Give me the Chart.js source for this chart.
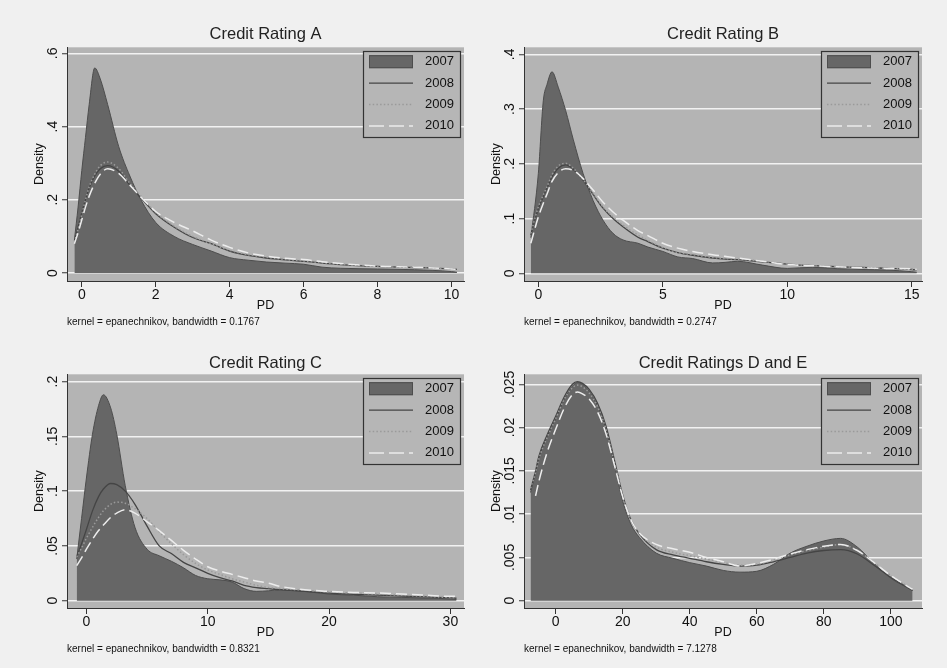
<!DOCTYPE html>
<html>
<head>
<meta charset="utf-8">
<script src="https://cdn.jsdelivr.net/npm/chart.js@4.4.1/dist/chart.umd.min.js"></script>
<style>
  body { margin: 0; background: #f0f0f0; }
  #wrap { position: relative; width: 947px; height: 668px; }
  canvas { position: absolute; }
</style>
</head>
<body>
<div id="wrap">
  <canvas id="panelA" width="470" height="334" style="left:0;top:0"></canvas>
  <canvas id="panelB" width="477" height="334" style="left:470px;top:0"></canvas>
  <canvas id="panelC" width="470" height="334" style="left:0;top:334px"></canvas>
  <canvas id="panelD" width="477" height="334" style="left:470px;top:334px"></canvas>
</div>
<script>
const years = ['2007', '2008', '2009', '2010'];

// Credit Rating A
const pdA = [-0.2, -0.1, 0, 0.1, 0.2, 0.35, 0.5, 0.7, 1.0, 1.3, 1.6, 2.0, 2.5, 3.0, 3.5, 4.0, 4.5, 5.0, 5.5, 6.0, 6.5, 7.0, 8.0, 9.0, 10.0, 10.15];
const a2007 = [0.09, 0.18, 0.28, 0.37, 0.46, 0.56, 0.53, 0.46, 0.345, 0.265, 0.2, 0.138, 0.1, 0.078, 0.06, 0.042, 0.035, 0.03, 0.027, 0.024, 0.016, 0.013, 0.011, 0.009, 0.004, 0.002];
const a2008 = [0.088, 0.125, 0.165, 0.2, 0.232, 0.265, 0.285, 0.293, 0.278, 0.24, 0.205, 0.162, 0.125, 0.097, 0.08, 0.06, 0.048, 0.041, 0.036, 0.032, 0.027, 0.023, 0.018, 0.015, 0.011, 0.01];
const a2009 = [0.085, 0.12, 0.16, 0.2, 0.235, 0.27, 0.293, 0.303, 0.285, 0.245, 0.21, 0.165, 0.128, 0.1, 0.08, 0.062, 0.05, 0.043, 0.037, 0.033, 0.028, 0.024, 0.018, 0.015, 0.011, 0.01];
const a2010 = [0.08, 0.11, 0.145, 0.18, 0.21, 0.245, 0.27, 0.285, 0.272, 0.24, 0.207, 0.168, 0.138, 0.115, 0.09, 0.07, 0.055, 0.046, 0.04, 0.037, 0.031, 0.026, 0.019, 0.016, 0.011, 0.01];
const xTicksA = [0, 2, 4, 6, 8, 10];
const yTicksA = [0, 0.2, 0.4, 0.6];
const yLabelsA = ['0', '.2', '.4', '.6'];

// Credit Rating B
const pdB = [-0.3, 0, 0.2, 0.35, 0.55, 0.8, 1.1, 1.4, 1.8, 2.2, 2.6, 3.0, 3.4, 4.0, 4.4, 5.0, 5.6, 6.2, 7.0, 7.5, 8.0, 9.0, 10.0, 11.0, 12.0, 13.0, 14.0, 15.0, 15.2];
const b2007 = [0.065, 0.182, 0.315, 0.345, 0.368, 0.34, 0.297, 0.245, 0.182, 0.133, 0.097, 0.073, 0.061, 0.055, 0.048, 0.04, 0.03, 0.027, 0.019, 0.02, 0.022, 0.015, 0.009, 0.011, 0.0085, 0.007, 0.006, 0.003, 0.002];
const b2008 = [0.07, 0.118, 0.14, 0.156, 0.176, 0.192, 0.198, 0.19, 0.17, 0.144, 0.119, 0.1, 0.085, 0.066, 0.058, 0.046, 0.038, 0.033, 0.028, 0.026, 0.025, 0.021, 0.017, 0.014, 0.012, 0.011, 0.009, 0.007, 0.006];
const b2009 = [0.073, 0.121, 0.143, 0.158, 0.18, 0.196, 0.201, 0.192, 0.171, 0.146, 0.121, 0.103, 0.088, 0.07, 0.06, 0.047, 0.038, 0.034, 0.029, 0.027, 0.026, 0.022, 0.017, 0.014, 0.012, 0.011, 0.009, 0.007, 0.006];
const b2010 = [0.055, 0.103, 0.128, 0.145, 0.168, 0.184, 0.191, 0.188, 0.173, 0.152, 0.13, 0.112, 0.097, 0.078, 0.069, 0.055, 0.046, 0.04, 0.034, 0.031, 0.028, 0.022, 0.016, 0.014, 0.012, 0.01, 0.009, 0.008, 0.007];
const xTicksB = [0, 5, 10, 15];
const yTicksB = [0, 0.1, 0.2, 0.3, 0.4];
const yLabelsB = ['0', '.1', '.2', '.3', '.4'];

// Credit Rating C
const pdC = [-0.8, -0.4, 0, 0.5, 1.0, 1.4, 2.0, 2.5, 3.2, 4.0, 5.0, 6.0, 7.0, 8.0, 9.0, 10.0, 11.0, 12.0, 13.0, 14.0, 15.0, 16.0, 18.0, 20.0, 22.0, 24.0, 26.0, 28.0, 30.0, 30.5];
const c2007 = [0.038, 0.075, 0.112, 0.152, 0.178, 0.188, 0.176, 0.152, 0.105, 0.067, 0.047, 0.041, 0.036, 0.03, 0.023, 0.02, 0.019, 0.017, 0.011, 0.0085, 0.009, 0.01, 0.0085, 0.006, 0.005, 0.0036, 0.003, 0.0024, 0.0015, 0.001];
const c2008 = [0.04, 0.052, 0.065, 0.082, 0.095, 0.102, 0.107, 0.106, 0.1, 0.088, 0.068, 0.05, 0.043, 0.035, 0.03, 0.025, 0.021, 0.018, 0.014, 0.012, 0.011, 0.01, 0.0085, 0.0068, 0.0058, 0.005, 0.0042, 0.0034, 0.0025, 0.0022];
const c2009 = [0.04, 0.048, 0.057, 0.067, 0.076, 0.082, 0.088, 0.09, 0.089, 0.084, 0.075, 0.063, 0.052, 0.042, 0.034, 0.028, 0.024, 0.02, 0.017, 0.014, 0.012, 0.011, 0.0095, 0.008, 0.007, 0.006, 0.005, 0.004, 0.003, 0.003];
const c2010 = [0.032, 0.039, 0.047, 0.056, 0.064, 0.069, 0.076, 0.08, 0.083, 0.08, 0.072, 0.064, 0.055, 0.046, 0.038, 0.031, 0.027, 0.024, 0.021, 0.018, 0.016, 0.013, 0.01, 0.0085, 0.0075, 0.007, 0.006, 0.005, 0.004, 0.004];
const xTicksC = [0, 10, 20, 30];
const yTicksC = [0, 0.05, 0.1, 0.15, 0.2];
const yLabelsC = ['0', '.05', '.1', '.15', '.2'];

// Credit Ratings D and E
const pdD = [-7.5, -6, -5, -2.5, 0, 2.5, 5, 6.5, 8, 10, 12.5, 15, 17.5, 20, 22.5, 25, 30, 35, 40, 45, 50, 55, 60, 65, 70, 75, 80, 85, 90, 95, 100, 106.5];
const d2007 = [0.0125, 0.0148, 0.0165, 0.019, 0.021, 0.0232, 0.0248, 0.0252, 0.025, 0.0242, 0.0225, 0.0198, 0.0158, 0.0115, 0.0088, 0.0073, 0.0055, 0.0049, 0.0044, 0.004, 0.0035, 0.0033, 0.0034, 0.0042, 0.0055, 0.0063, 0.0069, 0.0072, 0.0062, 0.0043, 0.0026, 0.0012];
const d2008 = [0.0128, 0.015, 0.0167, 0.0192, 0.0213, 0.0235, 0.025, 0.0253, 0.0251, 0.0244, 0.0228, 0.0202, 0.0163, 0.0122, 0.0093, 0.0077, 0.0059, 0.0053, 0.0049, 0.0045, 0.0042, 0.004, 0.0041, 0.0045, 0.005, 0.0055, 0.0058, 0.0059, 0.0054, 0.0041, 0.0027, 0.0012];
const d2009 = [0.013, 0.0148, 0.0164, 0.0189, 0.021, 0.0232, 0.0246, 0.0249, 0.0247, 0.024, 0.0224, 0.0198, 0.016, 0.0122, 0.0094, 0.0078, 0.0062, 0.0056, 0.0052, 0.0048, 0.0044, 0.0041, 0.0042, 0.0047, 0.0053, 0.0058, 0.0062, 0.0065, 0.0058, 0.0044, 0.0029, 0.0013];
const d2010 = [null, 0.0121, 0.0138, 0.0172, 0.0198, 0.0222, 0.0238, 0.0241, 0.0239, 0.0233, 0.0218, 0.0193, 0.0157, 0.012, 0.0093, 0.0078, 0.0065, 0.006, 0.0056, 0.005, 0.0045, 0.004, 0.0043, 0.0048, 0.0054, 0.0059, 0.0063, 0.0065, 0.0058, 0.0044, 0.0029, 0.0013];
const xTicksD = [0, 20, 40, 60, 80, 100];
const yTicksD = [0, 0.005, 0.01, 0.015, 0.02, 0.025];
const yLabelsD = ['0', '.005', '.01', '.015', '.02', '.025'];

Chart.defaults.font.family = '"Liberation Sans", Arial, sans-serif';
Chart.defaults.color = '#111';

const seriesStyle = [
  { borderColor: '#4d4d4d', backgroundColor: '#666666', fill: 'origin', borderWidth: 1, borderDash: [], order: 4 },
  { borderColor: '#454545', backgroundColor: 'transparent', fill: false, borderWidth: 1.3, borderDash: [], order: 3 },
  { borderColor: '#9a9a9a', backgroundColor: 'transparent', fill: false, borderWidth: 1.5, borderDash: [1.5, 2.2], order: 2 },
  { borderColor: '#ececec', backgroundColor: 'transparent', fill: false, borderWidth: 1.5, borderDash: [11, 5], order: 1 }
];

const plotBg = {
  id: 'plotBg',
  beforeDraw(chart) {
    const { ctx, chartArea: a } = chart;
    ctx.save();
    ctx.fillStyle = '#b4b4b4';
    ctx.fillRect(a.left, a.top, a.right - a.left, a.bottom - a.top);
    ctx.restore();
  }
};

// stata-like legend box in the top right corner of the plot
const legendBox = {
  id: 'legendBox',
  afterDraw(chart) {
    const { ctx, chartArea: a } = chart;
    const w = 97, h = 86;
    const x0 = Math.round(a.right - 4 - w), y0 = Math.round(a.top + 4);
    ctx.save();
    ctx.fillStyle = '#b6b6b6';
    ctx.fillRect(x0, y0, w, h);
    ctx.strokeStyle = '#333';
    ctx.lineWidth = 1.2;
    ctx.strokeRect(x0 + 0.5, y0 + 0.5, w, h);
    chart.data.datasets.forEach((ds, i) => {
      const cy = y0 + 10.7 + i * 21.4;
      if (ds.fill) {
        ctx.fillStyle = ds.backgroundColor;
        ctx.fillRect(x0 + 6, cy - 6.5, 44, 13);
        ctx.strokeStyle = ds.borderColor;
        ctx.lineWidth = 1;
        ctx.setLineDash([]);
        ctx.strokeRect(x0 + 6.5, cy - 6, 43, 12);
      } else {
        ctx.strokeStyle = ds.borderColor;
        ctx.lineWidth = ds.borderWidth;
        ctx.setLineDash(ds.legendDash || ds.borderDash);
        ctx.beginPath();
        ctx.moveTo(x0 + 6, cy);
        ctx.lineTo(x0 + 50, cy);
        ctx.stroke();
      }
      ctx.setLineDash([]);
      ctx.fillStyle = '#111';
      ctx.font = '13px "Liberation Sans", Arial, sans-serif';
      ctx.textAlign = 'right';
      ctx.textBaseline = 'middle';
      ctx.fillText(ds.label, x0 + 91, cy);
    });
    ctx.restore();
  }
};

function makePanel(id, p) {
  const datasets = p.series.map((ys, k) => Object.assign({
    label: years[k],
    data: p.pd.map((x, i) => ({ x: x, y: ys[i] })),
    pointRadius: 0,
    cubicInterpolationMode: 'monotone',
    legendDash: k === 3 ? [15, 5] : null
  }, seriesStyle[k]));

  new Chart(document.getElementById(id), {
    type: 'line',
    data: { datasets: datasets },
    options: {
      responsive: false,
      animation: false,
      devicePixelRatio: 1,
      layout: { padding: { left: p.padLeft, right: p.padRight, top: 0, bottom: p.padBottom } },
      plugins: {
        legend: { display: false },
        tooltip: { enabled: false },
        title: {
          display: true, text: p.title, fullSize: false, color: '#222',
          font: { size: 16.5, weight: 'normal' },
          padding: { top: p.titleTop, bottom: p.titleBottom }
        },
        subtitle: {
          display: true, text: p.note, position: 'bottom', align: 'start', fullSize: false,
          color: '#111', font: { size: 10 }, padding: { top: 1, bottom: 6 }
        }
      },
      scales: {
        x: {
          type: 'linear', min: p.xMin, max: p.xMax,
          afterBuildTicks: s => { s.ticks = p.xTicks.map(v => ({ value: v })); },
          afterFit: s => { s.height = 34; },
          grid: { drawOnChartArea: false, tickLength: 6, tickColor: '#333', tickWidth: 1 },
          border: { color: '#333', width: 1 },
          ticks: { font: { size: 14 }, padding: 0, maxRotation: 0, autoSkip: false, color: '#111' },
          title: { display: true, text: 'PD', font: { size: 12.5 }, color: '#111', padding: { top: 0, bottom: 1.5 } }
        },
        y: {
          type: 'linear', min: p.yMin, max: p.yMax,
          afterBuildTicks: s => { s.ticks = p.yTicks.map(v => ({ value: v })); },
          afterFit: s => { s.width = 54; },
          grid: { color: '#f2f2f2', lineWidth: 1.5, tickLength: 5, tickColor: '#333', tickWidth: 1 },
          border: { color: '#333', width: 1 },
          ticks: {
            font: { size: 14 }, minRotation: 90, maxRotation: 90, crossAlign: 'center',
            padding: p.labelPad, autoSkip: false, color: '#111',
            callback: (v, i) => p.yLabels[i]
          },
          title: { display: true, text: 'Density', font: { size: 12.5 }, color: '#111', padding: { top: 19.5, bottom: 0 } }
        }
      }
    },
    plugins: [plotBg, legendBox]
  });
}

makePanel('panelA', {
  title: 'Credit Rating A', note: 'kernel = epanechnikov, bandwidth = 0.1767',
  pd: pdA, series: [a2007, a2008, a2009, a2010],
  xTicks: xTicksA, yTicks: yTicksA, yLabels: yLabelsA,
  xMin: -0.40, xMax: 10.34, yMin: -0.0218, yMax: 0.6164,
  padLeft: 13, padRight: 6, padBottom: 0, titleTop: 24.5, titleBottom: 3, labelPad: 3.2
});
makePanel('panelB', {
  title: 'Credit Rating B', note: 'kernel = epanechnikov, bandwidth = 0.2747',
  pd: pdB, series: [b2007, b2008, b2009, b2010],
  xTicks: xTicksB, yTicks: yTicksB, yLabels: yLabelsB,
  xMin: -0.575, xMax: 15.41, yMin: -0.014, yMax: 0.4128,
  padLeft: 0, padRight: 25, padBottom: 0, titleTop: 24.5, titleBottom: 3, labelPad: 3.2
});
makePanel('panelC', {
  title: 'Credit Rating C', note: 'kernel = epanechnikov, bandwidth = 0.8321',
  pd: pdC, series: [c2007, c2008, c2009, c2010],
  xTicks: xTicksC, yTicks: yTicksC, yLabels: yLabelsC,
  xMin: -1.6, xMax: 31.12, yMin: -0.0067, yMax: 0.2067,
  padLeft: 13, padRight: 6, padBottom: 7, titleTop: 19.4, titleBottom: 1.1, labelPad: -0.6
});
makePanel('panelD', {
  title: 'Credit Ratings D and E', note: 'kernel = epanechnikov, bandwidth = 7.1278',
  pd: pdD, series: [d2007, d2008, d2009, d2010],
  xTicks: xTicksD, yTicks: yTicksD, yLabels: yLabelsD,
  xMin: -9.45, xMax: 109.3, yMin: -0.00084, yMax: 0.02615,
  padLeft: 0, padRight: 25, padBottom: 7, titleTop: 19.4, titleBottom: 1.1, labelPad: -4.5
});
</script>
</body>
</html>
